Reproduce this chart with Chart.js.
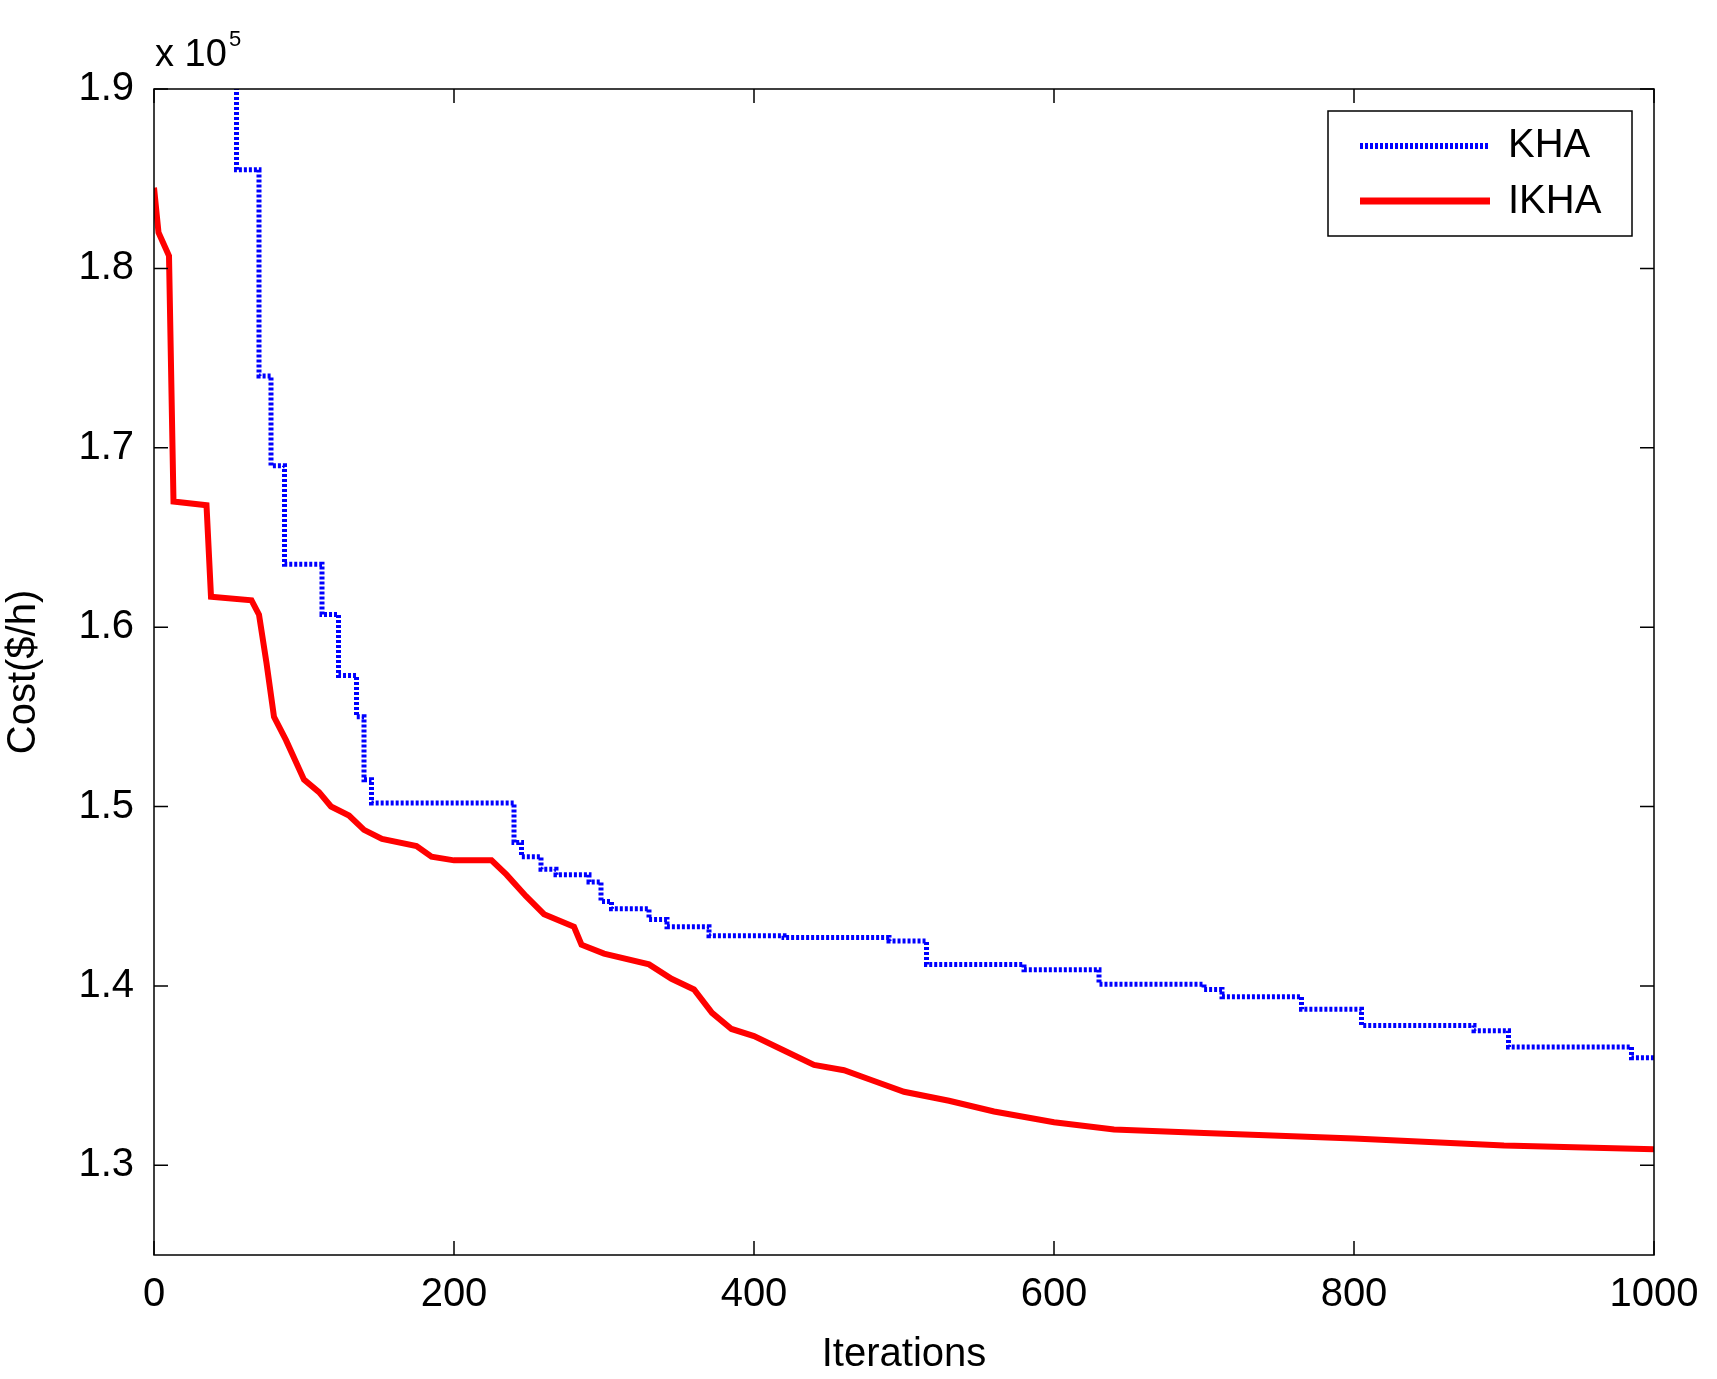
<!DOCTYPE html>
<html><head><script src="https://cdn.jsdelivr.net/npm/chart.js@4"></script>
<style>html,body{margin:0;background:#fff}</style></head>
<body><canvas id="c" width="1717" height="1379"></canvas>
<script>
const khaX=[0,55,70,78,87,112,123,135,140,145,240,245,258,268,290,298,305,330,342,370,420,490,515,580,630,700,712,765,805,880,903,985,1000];
const khaY=[2.0,1.855,1.74,1.69,1.635,1.607,1.573,1.55,1.515,1.502,1.48,1.472,1.465,1.462,1.458,1.447,1.443,1.437,1.433,1.428,1.427,1.425,1.412,1.409,1.401,1.398,1.394,1.387,1.378,1.375,1.366,1.36,1.36];
const ikhaX=[0,3,10,13,35,38,65,70,75,80,88,100,110,118,130,140,152,175,185,200,225,235,248,260,280,285,300,330,345,360,372,385,400,420,440,460,480,500,530,560,600,640,700,800,900,1000];
const ikhaY=[1.845,1.82,1.807,1.67,1.668,1.617,1.615,1.607,1.58,1.55,1.537,1.515,1.508,1.5,1.495,1.487,1.482,1.478,1.472,1.47,1.47,1.462,1.45,1.44,1.433,1.423,1.418,1.412,1.404,1.398,1.385,1.376,1.372,1.364,1.356,1.353,1.347,1.341,1.336,1.330,1.324,1.320,1.318,1.315,1.311,1.309];
const xTicks=[0,200,400,600,800,1000];
const yTicks=[1.3,1.4,1.5,1.6,1.7,1.8,1.9];
const seriesNames=['KHA','IKHA'];
const F='"Liberation Sans", Arial, sans-serif';
const pts=(xs,ys)=>xs.map((x,i)=>({x,y:ys[i]}));
const deco={id:'deco',afterDraw(ch){
 const c=ch.ctx,a=ch.chartArea,xs=ch.scales.x,ys=ch.scales.y;
 c.save();c.strokeStyle='#000';c.lineWidth=1.5;
 c.strokeRect(a.left,a.top,a.right-a.left,a.bottom-a.top);
 const L=14;
 xTicks.forEach(v=>{const p=xs.getPixelForValue(v);c.beginPath();c.moveTo(p,a.bottom);c.lineTo(p,a.bottom-L);c.moveTo(p,a.top);c.lineTo(p,a.top+L);c.stroke();});
 yTicks.forEach(v=>{const p=ys.getPixelForValue(v);c.beginPath();c.moveTo(a.left,p);c.lineTo(a.left+L,p);c.moveTo(a.right,p);c.lineTo(a.right-L,p);c.stroke();});
 c.fillStyle='#000';c.font='38px '+F;c.textBaseline='alphabetic';c.textAlign='left';
 c.fillText('x 10',155,66);c.font='22px '+F;c.fillText('5',229,46);
 const lx=1328,ly=111,lw=304,lh=125;
 c.fillStyle='#fff';c.fillRect(lx,ly,lw,lh);c.strokeRect(lx,ly,lw,lh);
 c.lineWidth=6;c.strokeStyle='#0000ff';c.setLineDash([3,2]);
 c.beginPath();c.moveTo(1360,146);c.lineTo(1490,146);c.stroke();
 c.setLineDash([]);c.strokeStyle='#ff0000';c.lineWidth=7;
 c.beginPath();c.moveTo(1360,201);c.lineTo(1490,201);c.stroke();
 c.fillStyle='#000';c.font='40px '+F;c.textBaseline='middle';
 c.fillText(seriesNames[0],1508,146);c.fillText(seriesNames[1],1508,202);
 c.restore();}};
new Chart(document.getElementById('c'),{type:'line',
 data:{datasets:[
  {label:seriesNames[0],data:pts(khaX,khaY),stepped:true,borderColor:'#0000ff',borderWidth:5,borderDash:[3,2],pointRadius:0,fill:false},
  {label:seriesNames[1],data:pts(ikhaX,ikhaY),borderColor:'#ff0000',borderWidth:6,pointRadius:0,fill:false,tension:0}]},
 options:{responsive:false,animation:false,devicePixelRatio:1,
  layout:{padding:{top:89,right:63,left:0,bottom:0}},
  plugins:{legend:{display:false},tooltip:{enabled:false}},
  scales:{
   x:{type:'linear',min:0,max:1000,afterBuildTicks:s=>{s.ticks=xTicks.map(v=>({value:v}))},
    grid:{display:false},border:{display:false},
    ticks:{color:'#000',font:{family:F,size:40},padding:8,maxRotation:0,callback:v=>String(v)},
    title:{display:true,text:'Iterations',color:'#000',font:{family:F,size:40},padding:0},
    afterFit:s=>{s.height=124}},
   y:{type:'linear',min:1.25,max:1.9,afterBuildTicks:s=>{s.ticks=yTicks.map(v=>({value:v}))},
    grid:{display:false},border:{display:false},
    ticks:{color:'#000',font:{family:F,size:40},padding:12,callback:v=>v.toFixed(1)},
    title:{display:true,text:'Cost($/h)',color:'#000',font:{family:F,size:40},padding:0},
    afterFit:s=>{s.width=154}}}},
 plugins:[deco]});
</script></body></html>
